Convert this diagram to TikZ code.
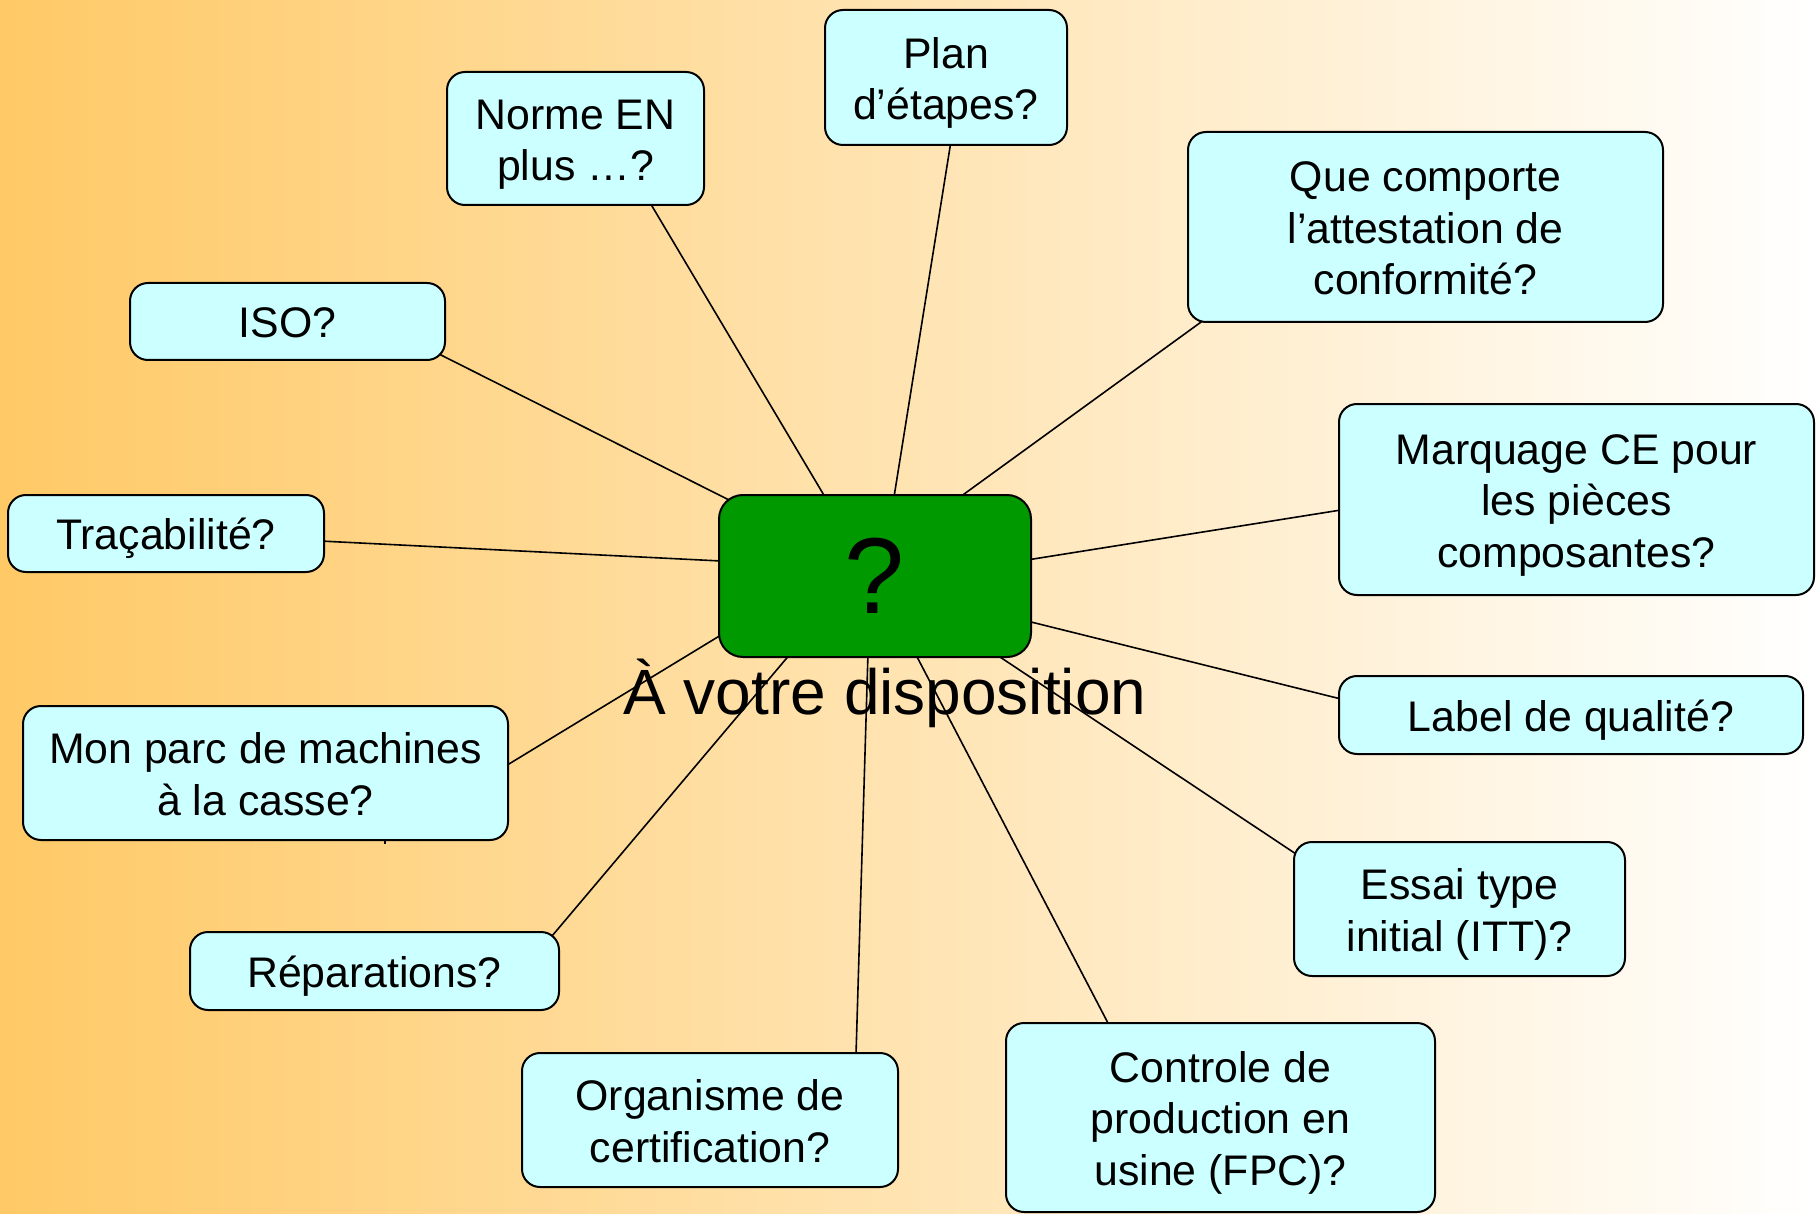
\documentclass[tikz,border=0pt]{standalone}
\usepackage{fontspec}
\setmainfont{Liberation Sans}
\usetikzlibrary{calc}
\pgfdeclarelayer{bg}
\pgfsetlayers{bg,main}
\definecolor{boxfill}{HTML}{CCFFFF}
\definecolor{gfill}{HTML}{009900}
\definecolor{orangebg}{HTML}{FFC966}
\newcommand{\qtxt}[1]{\raisebox{-3pt}[\height][\depth]{\begin{tabular}{@{}c@{}}#1\end{tabular}}}
\begin{document}
\begin{tikzpicture}[x=0.5pt,y=-0.5pt,
  qbox/.style={draw=black, line width=1pt, fill=boxfill, rounded corners=9pt, inner sep=0pt, font=\fontsize{21.4}{25.8}\selectfont},
  hub/.style={draw=black, line width=1pt, fill=gfill, rounded corners=12pt, inner sep=0pt, font=\fontsize{54}{60}\selectfont},
  link/.style={line width=0.8pt, draw=black}]
\useasboundingbox (0,0) rectangle (1816,1214);

\node[qbox, minimum width=128.5pt, minimum height=66.5pt] (norme) at (575.5,138.5) {\qtxt{Norme EN\\plus …?}};
\node[qbox, minimum width=121pt, minimum height=67.5pt] (plan) at (946,77.5) {\qtxt{Plan\\d’étapes?}};
\node[qbox, minimum width=237.5pt, minimum height=95pt] (que) at (1425.5,227) {\qtxt{Que comporte\\l’attestation de\\conformité?}};
\node[qbox, minimum width=157.5pt, minimum height=38.5pt] (iso) at (287.5,321.5) {\qtxt{ISO?}};
\node[qbox, minimum width=158pt, minimum height=38.5pt] (trac) at (166,533.5) {\qtxt{Traçabilité?}};
\node[qbox, minimum width=237.5pt, minimum height=95.5pt] (marq) at (1576.5,499.5) {\qtxt{Marquage CE pour\\les pièces\\composantes?}};
\node[hub, minimum width=156pt, minimum height=81pt] (hub) at (875,576) {?};
\node[qbox, minimum width=232pt, minimum height=39pt] (label) at (1571,715) {\qtxt{Label de qualité?}};
\node[qbox, minimum width=242.5pt, minimum height=67pt] (parc) at (265.5,773) {\qtxt{Mon parc de machines\\à la casse?}};
\node[qbox, minimum width=165.5pt, minimum height=67pt] (essai) at (1459.5,909) {\qtxt{Essai type\\initial (ITT)?}};
\node[qbox, minimum width=184.5pt, minimum height=39pt] (repa) at (374.5,971) {\qtxt{Réparations?}};
\node[qbox, minimum width=188pt, minimum height=67pt] (orga) at (710,1120) {\qtxt{Organisme de\\certification?}};
\node[qbox, minimum width=214.5pt, minimum height=94.5pt] (ctrl) at (1220.5,1117.5) {\qtxt{Controle de\\production en\\usine (FPC)?}};
\node[font=\fontsize{32}{38}\selectfont, anchor=base, inner sep=0pt] (dispo) at (885,714) {À votre disposition};

\begin{pgfonlayer}{bg}
\shade[left color=orangebg, right color=white] (0,0) rectangle (1816,1214);
\draw[link] ($(norme.north west)+(203,130)$) -- ($(hub.north west)+(107,3)$);
\draw[link] ($(plan.north west)+(127,132)$) -- ($(hub.north west)+(176,3)$);
\draw[link] ($(que.north west)+(21,186)$) -- ($(hub.north west)+(242,3)$);
\draw[link] ($(iso.north west)+(308,71)$) -- ($(hub.north west)+(13,7)$);
\draw[link] ($(trac.north west)+(313,47)$) -- ($(hub.north west)+(3,67)$);
\draw[link] ($(marq.north west)+(3,107)$) -- ($(hub.north west)+(309,66)$);
\draw[link] ($(label.north west)+(3,24)$) -- ($(hub.north west)+(309,127)$);
\draw[link] ($(parc.north west)+(482,62)$) -- ($(hub.north west)+(3,141)$);
\draw[link] ($(repa.north west)+(363,5)$) -- ($(hub.north west)+(73,159)$);
\draw[link] ($(orga.north west)+(335,3)$) -- ($(hub.north west)+(150,159)$);
\draw[link] ($(ctrl.north west)+(104,3)$) -- ($(hub.north west)+(197,159)$);
\draw[link] ($(essai.north west)+(3,13)$) -- ($(hub.north west)+(276,159)$);
\draw[link] ($(parc.north west)+(363,130)$) -- ($(parc.north west)+(363,139)$);
\end{pgfonlayer}
\end{tikzpicture}
\end{document}
